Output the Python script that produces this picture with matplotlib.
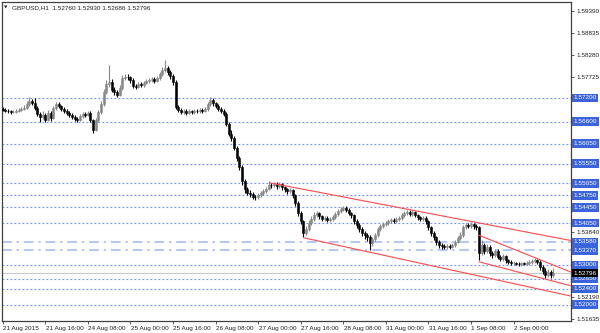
import matplotlib
matplotlib.use('Agg')
import matplotlib.pyplot as plt
import matplotlib.transforms as mtransforms
import numpy as np

# ---------------- data ----------------
symbol_title = "GBPUSD,H1  1.52760 1.52930 1.52686 1.52796"
first_open = 1.5693
close = [
    1.5690, 1.5688, 1.5686, 1.5684, 1.5685, 1.5687, 1.5690, 1.5692, 1.5695, 1.5705,
    1.5712, 1.5708, 1.5695, 1.5680, 1.5672, 1.5678, 1.5665, 1.5682, 1.5670, 1.5695,
    1.5705, 1.5700, 1.5693, 1.5688, 1.5683, 1.5678, 1.5672, 1.5668, 1.5665, 1.5675,
    1.5680, 1.5678, 1.5683, 1.5665, 1.5640, 1.5665, 1.5685, 1.5705, 1.5735, 1.5755,
    1.5760, 1.5740, 1.5735, 1.5728, 1.5745, 1.5770, 1.5773, 1.5772, 1.5765, 1.5750,
    1.5748, 1.5755, 1.5752, 1.5758, 1.5762, 1.5765, 1.5768, 1.5763, 1.5770, 1.5780,
    1.5790, 1.5795, 1.5785, 1.5775, 1.5760, 1.5697, 1.5690, 1.5685, 1.5688, 1.5683,
    1.5686, 1.5684, 1.5688, 1.5686, 1.5690, 1.5688, 1.5692, 1.5705, 1.5715, 1.5706,
    1.5700, 1.5693, 1.5688, 1.5680, 1.5655, 1.5630, 1.5620, 1.5595, 1.5570, 1.5545,
    1.5510, 1.5490, 1.5482, 1.5478, 1.5472, 1.5470, 1.5475, 1.5480, 1.5485, 1.5492,
    1.5502, 1.5500, 1.5504, 1.5498, 1.5503, 1.5495, 1.5490, 1.5485, 1.5488, 1.5475,
    1.5455, 1.5430, 1.5410, 1.5380, 1.5390, 1.5405, 1.5415, 1.5425, 1.5430, 1.5422,
    1.5415, 1.5418, 1.5412, 1.5416, 1.5420, 1.5428, 1.5435, 1.5440, 1.5443, 1.5438,
    1.5430, 1.5425, 1.5410, 1.5400, 1.5390, 1.5380, 1.5375, 1.5370, 1.5355, 1.5365,
    1.5375, 1.5390, 1.5398, 1.5402, 1.5405, 1.5410, 1.5413, 1.5410, 1.5415, 1.5418,
    1.5425, 1.5430, 1.5433, 1.5428, 1.5432, 1.5425, 1.5420, 1.5415, 1.5418, 1.5410,
    1.5395, 1.5380, 1.5370, 1.5358, 1.5350, 1.5347, 1.5345, 1.5348, 1.5346, 1.5350,
    1.5358, 1.5368, 1.5375, 1.5395, 1.5400, 1.5398, 1.5402, 1.5397, 1.5395, 1.5330,
    1.5350, 1.5335, 1.5345, 1.5330, 1.5325, 1.5335, 1.5320, 1.5315, 1.5322, 1.5312,
    1.5308, 1.5305, 1.5305, 1.5303, 1.5302, 1.5304, 1.5303, 1.5305, 1.5307, 1.5310,
    1.5312, 1.5308, 1.5295, 1.5285, 1.5275, 1.5282, 1.5276, 1.52796,
]
high = [
    1.5697, 1.5694, 1.5691, 1.5690, 1.5689, 1.5691, 1.5694, 1.5697, 1.5702, 1.5712,
    1.5722, 1.5718, 1.5720, 1.5699, 1.5684, 1.5686, 1.5682, 1.5690, 1.5686, 1.5700,
    1.5710, 1.5709, 1.5703, 1.5697, 1.5692, 1.5687, 1.5683, 1.5676, 1.5673, 1.5680,
    1.5685, 1.5684, 1.5688, 1.5686, 1.5668, 1.5670, 1.5690, 1.5712, 1.5742, 1.5765,
    1.5803, 1.5768, 1.5748, 1.5740, 1.5752, 1.5778, 1.5780, 1.5779, 1.5776, 1.5769,
    1.5756, 1.5760, 1.5759, 1.5763, 1.5767, 1.5770, 1.5773, 1.5772, 1.5775, 1.5786,
    1.5798, 1.5815, 1.5800, 1.5790, 1.5780, 1.5764, 1.5702, 1.5695, 1.5693, 1.5692,
    1.5691, 1.5690, 1.5693, 1.5692, 1.5695, 1.5694, 1.5698, 1.5710, 1.5722, 1.5719,
    1.5710, 1.5704, 1.5698, 1.5692, 1.5684, 1.5660, 1.5638, 1.5625, 1.5600, 1.5575,
    1.5550, 1.5515, 1.5496, 1.5488, 1.5483, 1.5477, 1.5480, 1.5485, 1.5490, 1.5497,
    1.5510, 1.5507, 1.5509, 1.5508, 1.5508, 1.5507, 1.5499, 1.5494, 1.5493, 1.5492,
    1.5479, 1.5460, 1.5436, 1.5414, 1.5398, 1.5412, 1.5422, 1.5432, 1.5436, 1.5434,
    1.5426, 1.5423, 1.5422, 1.5421, 1.5425, 1.5433, 1.5440, 1.5445, 1.5448, 1.5447,
    1.5442, 1.5434, 1.5429, 1.5415, 1.5405, 1.5395, 1.5386, 1.5380, 1.5375, 1.5370,
    1.5380, 1.5395, 1.5403, 1.5407, 1.5410, 1.5415, 1.5418, 1.5417, 1.5420, 1.5423,
    1.5430, 1.5436, 1.5439, 1.5437, 1.5437, 1.5436, 1.5429, 1.5424, 1.5423, 1.5422,
    1.5414, 1.5399, 1.5385, 1.5374, 1.5362, 1.5355, 1.5352, 1.5353, 1.5352, 1.5355,
    1.5363, 1.5373, 1.5382, 1.5400, 1.5406, 1.5405, 1.5408, 1.5406, 1.5403, 1.5398,
    1.5362, 1.5356, 1.5352, 1.5350, 1.5336, 1.5340, 1.5340, 1.5326, 1.5328, 1.5326,
    1.5316, 1.5312, 1.5310, 1.5308, 1.5307, 1.5308, 1.5308, 1.5310, 1.5312, 1.5316,
    1.5318, 1.5316, 1.5312, 1.5300, 1.5292, 1.5290, 1.5288, 1.52930,
]
low = [
    1.5686, 1.5684, 1.5682, 1.5680, 1.5681, 1.5682, 1.5684, 1.5686, 1.5689, 1.5692,
    1.5700, 1.5702, 1.5690, 1.5674, 1.5660, 1.5668, 1.5660, 1.5662, 1.5662, 1.5666,
    1.5690, 1.5694, 1.5688, 1.5683, 1.5678, 1.5673, 1.5667, 1.5662, 1.5660, 1.5662,
    1.5670, 1.5673, 1.5674, 1.5660, 1.5632, 1.5636, 1.5660, 1.5680, 1.5700, 1.5730,
    1.5748, 1.5735, 1.5728, 1.5722, 1.5724, 1.5740, 1.5765, 1.5766, 1.5758, 1.5744,
    1.5742, 1.5744, 1.5747, 1.5748, 1.5754, 1.5757, 1.5760, 1.5758, 1.5759, 1.5766,
    1.5776, 1.5785, 1.5778, 1.5768, 1.5752, 1.5692, 1.5684, 1.5680, 1.5680, 1.5678,
    1.5679, 1.5679, 1.5680, 1.5681, 1.5682, 1.5683, 1.5684, 1.5688, 1.5700, 1.5700,
    1.5694, 1.5688, 1.5682, 1.5674, 1.5650, 1.5624, 1.5612, 1.5588, 1.5562, 1.5538,
    1.5502, 1.5482, 1.5476, 1.5472, 1.5466, 1.5464, 1.5465, 1.5470, 1.5475, 1.5480,
    1.5488, 1.5494, 1.5495, 1.5492, 1.5493, 1.5489, 1.5484, 1.5479, 1.5480, 1.5468,
    1.5448, 1.5424, 1.5402, 1.5371, 1.5375, 1.5385, 1.5400, 1.5410, 1.5420, 1.5416,
    1.5410, 1.5411, 1.5407, 1.5408, 1.5411, 1.5416, 1.5424, 1.5431, 1.5436, 1.5433,
    1.5425, 1.5418, 1.5404, 1.5393, 1.5383, 1.5372, 1.5366, 1.5360, 1.5338, 1.5348,
    1.5360, 1.5370, 1.5385, 1.5393, 1.5397, 1.5400, 1.5405, 1.5405, 1.5406, 1.5411,
    1.5414, 1.5421, 1.5426, 1.5423, 1.5424, 1.5420, 1.5414, 1.5410, 1.5410, 1.5404,
    1.5388, 1.5372, 1.5362, 1.5350, 1.5343, 1.5341, 1.5340, 1.5340, 1.5341, 1.5342,
    1.5346, 1.5354, 1.5364, 1.5371, 1.5390, 1.5392, 1.5393, 1.5390, 1.5388, 1.5312,
    1.5325, 1.5328, 1.5330, 1.5322, 1.5318, 1.5320, 1.5314, 1.5309, 1.5310, 1.5306,
    1.5303, 1.5300, 1.5300, 1.5299, 1.5298, 1.5298, 1.5299, 1.5299, 1.5301, 1.5303,
    1.5305, 1.5302, 1.5288, 1.5278, 1.5268, 1.5270, 1.5268, 1.52686,
]

time_labels = ['21 Aug 2015', '21 Aug 16:00', '24 Aug 08:00', '25 Aug 00:00',
               '25 Aug 16:00', '26 Aug 08:00', '27 Aug 00:00', '27 Aug 16:00',
               '28 Aug 08:00', '31 Aug 00:00', '31 Aug 16:00', '1 Sep 08:00',
               '2 Sep 00:00']
time_label_bars = [0, 16, 32, 48, 64, 80, 96, 112, 128, 144, 160, 176, 192]

scale_labels = [1.59390, 1.58835, 1.58280, 1.57725, 1.53840, 1.52190, 1.51635]
dotted_levels = [1.57200, 1.56600, 1.56050, 1.55550, 1.55050, 1.54750, 1.54450,
                 1.54050, 1.53000, 1.52650, 1.52400, 1.52000]
dashdot_levels = [1.53580, 1.53370]
last_price = 1.52796

# trend lines: (bar index, price) start and end
trend_lines = [
    ((100.1, 1.55068), (213.5, 1.53615)),
    ((113.0, 1.53685), (213.5, 1.52220)),
    ((178.8, 1.53753), (213.5, 1.52823)),
    ((178.9, 1.53082), (213.5, 1.52479)),
]

# ---------------- figure ----------------
W, H = 600, 333
fig = plt.figure(figsize=(W / 100, H / 100), dpi=100)
fig.patch.set_facecolor('white')
left_px, right_px, top_px, bot_px = 2.0, 570.7, 1.7, 320.7
ax = fig.add_axes([left_px / W, 1 - bot_px / H, (right_px - left_px) / W, (bot_px - top_px) / H])

FONT = 'Liberation Sans'
FS = 4.6

n = len(close)
idx = np.arange(n)
c = np.array(close)
o = np.array([first_open] + close[:-1])
hi = np.array(high)
lo = np.array(low)
up = c >= o
up_col = '#888888'
dn_col = '#000000'
cols = np.where(up, up_col, dn_col)

# level lines
for lv in dotted_levels:
    ax.axhline(lv, color='#6f8ef2', lw=0.8, linestyle=(0, (1.6, 2.0)), zorder=1)
for lv in dashdot_levels:
    ax.axhline(lv, color='#b3c6f4', lw=1.4, linestyle=(0, (5, 2.5, 1.2, 2.5)), zorder=1)
ax.axhline(last_price, color='#c8c8c8', lw=0.8, zorder=1)

# candles
ax.vlines(idx, lo, hi, colors=cols, lw=0.8, zorder=3)
body = np.where(np.abs(c - o) < 0.00003, 0.00003, c - o)
ax.bar(idx, body, bottom=o, width=0.75, color=cols, edgecolor=cols, lw=0.4, zorder=4)

# trend lines
for (x0, y0), (x1, y1) in trend_lines:
    ax.plot([x0, x1], [y0, y1], color='#ff4a4a', lw=0.8, zorder=5, solid_capstyle='butt')

ax.set_xlim(-0.26, 213.5)
ax.set_ylim(1.51600, 1.59616)

for s in ax.spines.values():
    s.set_color('#404040')
    s.set_linewidth(0.9)

# x-axis
ax.set_xticks(time_label_bars)
ax.set_xticklabels(time_labels, fontsize=FS, family=FONT, ha='left', color='#202020')
ax.tick_params(axis='x', direction='out', length=2.5, width=0.6, pad=1.2, color='#404040')
for lbl in ax.get_xticklabels():
    lbl.set_transform(lbl.get_transform() + mtransforms.ScaledTranslation(0.5 / 100, 0, fig.dpi_scale_trans))

# y-axis (right)
ax.yaxis.tick_right()
ax.set_yticks(scale_labels)
ax.set_yticklabels([f'{v:.5f}' for v in scale_labels], fontsize=FS, family=FONT, color='#202020')
ax.tick_params(axis='y', direction='out', length=2.5, width=0.6, pad=1.5, color='#404040')

trans = mtransforms.blended_transform_factory(ax.transAxes, ax.transData)
xoff = 1.0 + 2.6 / (right_px - left_px)
for lv in dotted_levels + dashdot_levels:
    ax.text(xoff, lv, f'{lv:.5f}', transform=trans, fontsize=FS, family=FONT, color='white',
            va='center', ha='left', clip_on=False, zorder=10,
            bbox=dict(boxstyle='square,pad=0.28', fc='#3a63dc', ec='none'))
ax.text(xoff, last_price, f'{last_price:.5f}', transform=trans, fontsize=FS, family=FONT,
        color='white', va='center', ha='left', clip_on=False, zorder=11,
        bbox=dict(boxstyle='square,pad=0.28', fc='#000000', ec='none'))

# title
fig.text(4 / W, 1 - 7.5 / H, '\u25BC', fontsize=3.2, family='DejaVu Sans', va='center', color='#202020')
fig.text(12 / W, 1 - 7.5 / H, symbol_title, fontsize=FS, family=FONT, va='center', color='#202020')

fig.savefig('out.png', dpi=100, facecolor='white')
